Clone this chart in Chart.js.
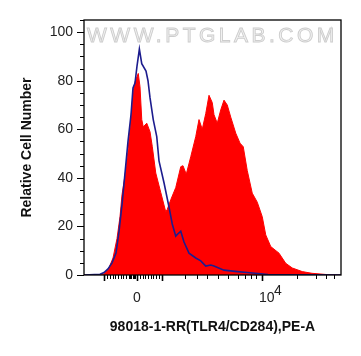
<!DOCTYPE html>
<html>
<head>
<meta charset="utf-8">
<script src="https://cdn.jsdelivr.net/npm/chart.js@4/dist/chart.umd.min.js"></script>
<style>
  html, body { margin: 0; padding: 0; background: #fff; }
  #wrap { width: 361px; height: 356px; }
</style>
</head>
<body>
<div id="wrap"><canvas id="histChart" width="361" height="356"></canvas></div>
<script>
// x positions are display channels: 0 -> "0", 1000 -> "10^4"
const redX = [-424, -296, -264, -232, -192, -160, -136, -120, -96, -70, -62, -42, -30, -16, 10, 24, 38, 50, 78, 104,
  122, 150, 190, 230, 242, 270, 310, 350, 368, 394, 430, 470, 496, 522, 550, 576, 602, 616, 642, 670,
  696, 722, 750, 790, 824, 850, 882, 922, 962, 1002, 1030, 1070, 1136, 1190, 1242, 1322, 1400, 1536, 1632];
const redY = [0, 0, 0.5, 2, 7, 15, 24, 33, 41, 52, 57, 68, 76, 79.5, 83, 77.5, 64, 61, 62.5, 59,
  53, 42, 34, 26, 27, 31, 36, 44.6, 45, 41.5, 48.7, 57, 64, 60, 66.5, 74, 71, 66, 62.5, 68,
  72, 70, 65, 58.4, 54.3, 52.8, 43, 33.7, 30, 24, 16.5, 11.7, 9, 4.8, 2.9, 1.4, 0.7, 0.1, 0];

const blueX = [-424, -296, -264, -232, -200, -168, -144, -120, -96, -72, -48, -32, -16, 0, 19, 38, 72, 88, 104, 130,
  158, 176, 216, 256, 282, 310, 328, 350, 376, 416, 470, 510, 550, 590, 616, 696, 784, 880, 990, 1048, 1632];
const blueY = [0, 0.3, 1, 2.5, 5, 9, 18, 29, 42, 55, 66, 77, 79, 86, 93, 87, 84, 80, 73, 64,
  57, 47, 38, 28, 21, 16, 17, 18, 13.6, 9, 7, 5.8, 3.7, 4.1, 3.7, 2, 1.5, 1, 0.5, 0.2, 0];

const yTicks = [0, 20, 40, 60, 80, 100];
const yMinorStep = 5;
const xLongTicks = [-264, 0, 202, 1000];
const xMinorTicks = [-238, -216, -194, -174, -152, -130, -110, -88, -66, -56, -46, -34, -24, -14,
  24, 46, 66, 88, 110, 130, 152, 174, 384, 478, 558, 646, 730, 806, 864, 910, 952, 1280, 1432, 1512, 1576];

const xTitle = '98018-1-RR(TLR4/CD284),PE-A';
const yTitle = 'Relative Cell Number';
const watermark = 'WWW.PTGLAB.COM';

const red = redX.map((x, i) => ({ x: x, y: redY[i] }));
const blue = blueX.map((x, i) => ({ x: x, y: blueY[i] }));

const decorPlugin = {
  id: 'decor',
  beforeDatasetsDraw(chart) {
    const ctx = chart.ctx;
    ctx.save();
    ctx.font = '21px "Liberation Sans", Arial, sans-serif';
    ctx.letterSpacing = '3.5px';
    ctx.textBaseline = 'middle';
    ctx.fillStyle = '#f2f2f2';
    ctx.strokeStyle = '#cdcdcd';
    ctx.lineWidth = 0.9;
    ctx.fillText(watermark, 87, 36);
    ctx.strokeText(watermark, 87, 36);
    ctx.restore();
  },
  afterDraw(chart) {
    const ctx = chart.ctx;
    const area = chart.chartArea;
    const xs = chart.scales.x;
    const ys = chart.scales.y;
    ctx.save();
    ctx.strokeStyle = '#000';
    ctx.lineWidth = 1.3;
    ctx.strokeRect(area.left, area.top, area.right - area.left, area.bottom - area.top);

    ctx.lineWidth = 1;
    ctx.beginPath();
    for (let v = 0; v <= 105; v += yMinorStep) {
      const py = Math.round(ys.getPixelForValue(v)) + 0.5;
      const len = v % 20 === 0 ? 7 : 4;
      ctx.moveTo(area.left - len, py);
      ctx.lineTo(area.left, py);
    }
    xMinorTicks.forEach(v => {
      const px = Math.round(xs.getPixelForValue(v)) + 0.5;
      ctx.moveTo(px, area.bottom);
      ctx.lineTo(px, area.bottom + 4);
    });
    ctx.stroke();
    ctx.lineWidth = 1.6;
    ctx.beginPath();
    xLongTicks.forEach(v => {
      const px = Math.round(xs.getPixelForValue(v)) + 0.5;
      ctx.moveTo(px, area.bottom);
      ctx.lineTo(px, area.bottom + 6);
    });
    ctx.stroke();

    ctx.fillStyle = '#222';
    ctx.font = '14px "Liberation Sans", Arial, sans-serif';
    ctx.textBaseline = 'middle';
    ctx.textAlign = 'center';
    ctx.fillText('0', xs.getPixelForValue(0), 298);
    const p4 = xs.getPixelForValue(1000);
    ctx.textAlign = 'left';
    ctx.fillText('10', p4 - 3, 298);
    ctx.fillText('4', p4 + 12, 291);
    ctx.restore();
  }
};

new Chart(document.getElementById('histChart'), {
  type: 'line',
  data: {
    datasets: [
      {
        label: 'Isotype',
        data: blue,
        borderColor: '#1c1c8e',
        borderWidth: 1.6,
        pointRadius: 0,
        fill: false,
        tension: 0
      },
      {
        label: 'TLR4',
        data: red,
        borderColor: '#ff0000',
        backgroundColor: '#ff0000',
        borderWidth: 1,
        pointRadius: 0,
        fill: 'origin',
        tension: 0
      }
    ]
  },
  options: {
    responsive: false,
    animation: false,
    layout: { padding: { top: 20, right: 20, left: 0, bottom: 0 } },
    plugins: {
      legend: { display: false },
      tooltip: { enabled: false }
    },
    scales: {
      x: {
        type: 'linear',
        min: -424,
        max: 1632,
        grid: { display: false },
        border: { display: false },
        ticks: { display: false },
        title: {
          display: true,
          text: xTitle,
          color: '#111',
          font: { family: '"Liberation Sans", Arial, sans-serif', size: 14, weight: 'bold' },
          padding: { top: 20, bottom: 20 }
        },
        afterFit(scale) { scale.height = 81; }
      },
      y: {
        min: 0,
        max: 105,
        afterBuildTicks(scale) { scale.ticks = yTicks.map(v => ({ value: v })); },
        grid: { display: true, drawOnChartArea: false, drawTicks: true, tickLength: 7, tickColor: 'rgba(0,0,0,0)' },
        border: { display: false },
        ticks: {
          color: '#222',
          padding: 4,
          font: { family: '"Liberation Sans", Arial, sans-serif', size: 14 }
        },
        title: {
          display: true,
          text: yTitle,
          color: '#111',
          font: { family: '"Liberation Sans", Arial, sans-serif', size: 14, weight: 'bold' },
          padding: { top: 19, bottom: 19 }
        },
        afterFit(scale) { scale.width = 84; }
      }
    }
  },
  plugins: [decorPlugin]
});
</script>
</body>
</html>
